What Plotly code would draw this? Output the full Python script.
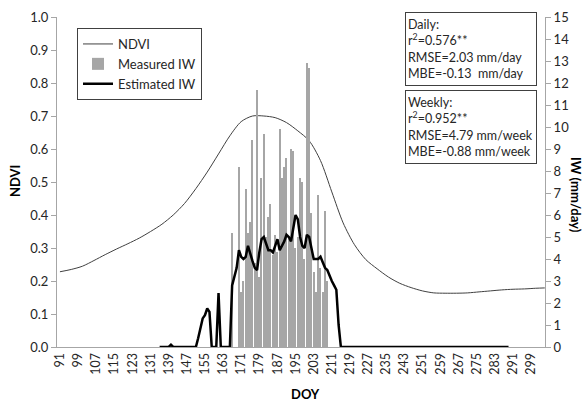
import plotly.graph_objects as go

# ---------------- data ----------------
ndvi_days = [91, 96, 101, 106, 111, 116, 121, 126, 131, 136, 141, 146, 151, 156, 161, 166,
             171, 176, 181, 186, 191, 196, 201, 206, 211, 216, 221, 226, 231, 236, 241, 246,
             251, 256, 261, 266, 271, 276, 281, 286, 291, 296, 301, 305]
ndvi_vals = [0.228, 0.235, 0.245, 0.262, 0.280, 0.297, 0.313, 0.330, 0.350, 0.372, 0.400, 0.435,
             0.480, 0.530, 0.585, 0.640, 0.683, 0.700, 0.700, 0.695, 0.680, 0.655, 0.625, 0.565,
             0.470, 0.376, 0.310, 0.265, 0.237, 0.212, 0.193, 0.180, 0.170, 0.164, 0.163, 0.163,
             0.164, 0.167, 0.170, 0.173, 0.175, 0.176, 0.178, 0.179]

meas_days = list(range(167, 210))
meas_iw = [5.2, 0.0, 0.0, 8.2, 2.5, 3.0, 7.2, 5.2, 5.7, 9.4, 3.8, 11.7, 3.2, 7.7, 9.7, 5.0,
           5.9, 6.5, 4.2, 5.1, 4.3, 9.9, 7.7, 8.2, 8.6, 4.9, 9.0, 8.9, 4.5, 5.0, 7.7, 7.5,
           4.0, 12.9, 12.7, 6.1, 3.4, 2.5, 6.9, 3.6, 2.5, 6.2, 3.0]

est_days = list(range(135, 217)) + [289]
est_iw = [0, 0, 0, 0, 0, 0.1, 0, 0, 0, 0, 0, 0, 0, 0, 0, 0,          # 135-150
          0, 0.4, 0.9, 1.3, 1.45, 1.75, 1.6, 0, 0, 0, 2.45, 0, 0, 0, 0, 0,  # 151-166
          2.8, 3.2, 3.6, 4.4, 4.1, 4.0, 4.1, 4.6, 4.2, 3.9, 3.6, 3.5, 4.3, 4.9, 5.0, 4.7,  # 167-182
          4.4, 4.4, 4.3, 4.6, 4.9, 4.4, 4.6, 4.8, 5.1, 5.0, 4.8, 5.5, 6.0, 5.8, 5.0, 4.6,  # 183-198
          4.5, 5.1, 5.0, 4.5, 4.0, 4.0, 4.0, 4.1, 3.8, 3.6, 3.5, 3.2, 3.0, 2.8, 2.6, 1.0,  # 199-214
          0, 0,  # 215-216
          0]     # 289

x_ticks = list(range(91, 300, 8))
ndvi_ticks = [i / 10 for i in range(0, 11)]
iw_ticks = list(range(0, 16))

# ---------------- figure ----------------
W, H = 585, 403
L, R, T, B = 57, 40, 17, 56
pw, ph = W - L - R, H - T - B


def px_x(px):
    return (px - L) / pw


def px_y(py):
    return (H - B - py) / ph


FONT = "Lato"
TXT = "#262626"
AX = "#a6a6a6"

fig = go.Figure()

fig.add_trace(go.Bar(
    x=meas_days, y=meas_iw, yaxis="y2", name="Measured IW",
    marker=dict(color="#a6a6a6", line=dict(width=0)), width=0.6, legendrank=2,
))
fig.add_trace(go.Scatter(
    x=ndvi_days, y=ndvi_vals, mode="lines", name="NDVI",
    line=dict(color="#404040", width=1, shape="spline", smoothing=0.8), legendrank=1,
))
fig.add_trace(go.Scatter(
    x=est_days, y=est_iw, yaxis="y2", mode="lines", name="Estimated IW",
    line=dict(color="black", width=2.5), legendrank=3,
))

fig.update_layout(
    width=W, height=H,
    margin=dict(l=L, r=R, t=T, b=B, autoexpand=False),
    paper_bgcolor="white", plot_bgcolor="white",
    font=dict(family=FONT, size=13, color=TXT),
    showlegend=True,
    legend=dict(
        x=px_x(77), y=px_y(28), xanchor="left", yanchor="top",
        bordercolor="#404040", borderwidth=1, bgcolor="white",
        font=dict(family=FONT, size=13, color=TXT),
        traceorder="normal", tracegroupgap=4, itemwidth=30,
    ),
    xaxis=dict(
        range=[89.7, 305.1], tickmode="array", tickvals=x_ticks,
        ticktext=[str(v) for v in x_ticks], tickangle=-90,
        showline=True, linecolor=AX, linewidth=1, ticks="", showgrid=False,
        zeroline=False, tickfont=dict(size=12.5, color=TXT), automargin=False,
    ),
    yaxis=dict(
        range=[0, 1], tickmode="array", tickvals=ndvi_ticks,
        ticktext=[f"{v:.1f}" for v in ndvi_ticks],
        showline=True, linecolor=AX, linewidth=1, ticks="outside", ticklen=5,
        tickcolor=AX, showgrid=False, zeroline=False, automargin=False,
        tickfont=dict(size=13, color=TXT),
    ),
    yaxis2=dict(
        range=[0, 15], overlaying="y", side="right", tickmode="array",
        tickvals=iw_ticks, showline=True, linecolor=AX, linewidth=1,
        ticks="outside", ticklen=5, tickcolor=AX, showgrid=False, zeroline=False,
        automargin=False, tickfont=dict(size=13, color=TXT),
    ),
    bargap=0,
)

annots = [
    dict(text="<b>NDVI</b>", x=px_x(15), y=px_y(181), textangle=-90),
    dict(text="<b>IW (mm/day)</b>", x=px_x(576), y=px_y(195), textangle=90),
    dict(text="<b>DOY</b>", x=px_x(305), y=px_y(394), textangle=0),
]
for a in annots:
    fig.add_annotation(xref="paper", yref="paper", showarrow=False,
                       xanchor="center", yanchor="middle",
                       font=dict(family=FONT, size=13, color="black"), **a)

boxes = [
    ("Daily:<br>r<sup>2</sup>=0.576**<br>RMSE=2.03 mm/day<br>MBE=-0.13  mm/day", 12),
    ("Weekly:<br>r<sup>2</sup>=0.952**<br>RMSE=4.79 mm/week<br>MBE=-0.88 mm/week", 90),
]
for txt, top in boxes:
    fig.add_annotation(
        xref="paper", yref="paper", x=px_x(405), y=px_y(top),
        xanchor="left", yanchor="top", showarrow=False, align="left",
        text=txt, width=126, height=68, valign="middle",
        bordercolor="#404040", borderwidth=1, borderpad=2, bgcolor="white",
        font=dict(family=FONT, size=12.5, color=TXT),
    )

fig.write_html("out.html")
